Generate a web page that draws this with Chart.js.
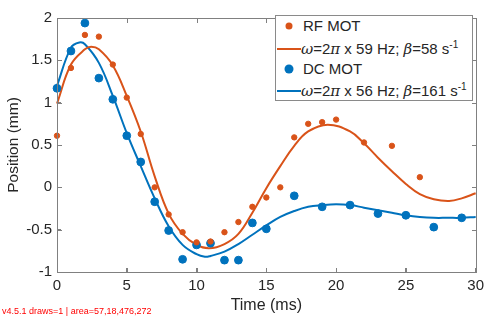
<!DOCTYPE html>
<html>
<head>
<meta charset="utf-8">
<script src="https://cdn.jsdelivr.net/npm/chart.js@4.4.1/dist/chart.umd.min.js"></script>
<style>
  html, body { margin: 0; padding: 0; background: #fff; }
  #wrap { position: relative; width: 493px; height: 319px; font-family: 'Liberation Sans', Arial, sans-serif; }
  #axes { position: absolute; left: 0; top: 0; width: 493px; height: 319px; pointer-events: none; }
  #axes div { position: absolute; background: #808080; }
  #axes div.box { background: transparent; border: 1px solid #808080; box-sizing: border-box; }
  #legend {
    position: absolute; left: 275px; top: 15px; width: 196px; height: 84px;
    border: 1px solid #8a8a8a; background: #fff; color: #262626; font-size: 15px;
  }
  .row { position: absolute; left: 0; height: 20px; line-height: 20px; white-space: nowrap; }
  .dot { position: absolute; top: 50%; border-radius: 50%; transform: translate(-50%, -50%); }
  .seg { position: absolute; top: 50%; height: 2px; margin-top: -1px; }
  .txt { position: absolute; top: 0; }
  sup { font-size: 10px; vertical-align: 6px; line-height: 0; }
  i { font-family: 'DejaVu Serif', serif; }
  #diag { position: absolute; left: 2px; top: 306px; font: 9px sans-serif; color: red; white-space: nowrap; }
</style>
</head>
<body>
<div id="wrap">
  <canvas id="chart" width="493" height="319"></canvas>
  <div id="axes"></div>
  <div id="legend"></div>
  <div id="diag"></div>
</div>
<script>
const diag = [];
const note = s => { diag.push(s); document.getElementById('diag').textContent = diag.join(' | '); };
window.addEventListener('error', e => note('ERR ' + e.message));

// measured points
const rfTime = [0, 1, 2, 3, 4, 5, 6, 7, 8, 9, 10, 11, 12, 13, 14, 15, 16, 17, 18, 19, 20, 22, 24, 26];
const rfPos = [0.61, 1.41, 1.80, 1.78, 1.45, 1.06, 0.63, 0.00, -0.32, -0.53, -0.65, -0.64, -0.53, -0.41, -0.23, -0.12, 0.00, 0.59, 0.75, 0.77, 0.80, 0.53, 0.49, 0.12];
const dcTime = [0, 1, 2, 3, 4, 5, 6, 7, 8, 9, 10, 11, 12, 13, 14, 15, 17, 19, 21, 23, 25, 27, 29];
const dcPos = [1.17, 1.61, 1.94, 1.29, 1.04, 0.61, 0.30, -0.17, -0.51, -0.85, -0.68, -0.66, -0.86, -0.86, -0.42, -0.49, -0.10, -0.23, -0.21, -0.31, -0.33, -0.47, -0.36];

// fitted curves
const rfFitTime = [0, 1, 2, 2.45, 3, 4, 5, 6, 7, 8, 9, 10, 10.9, 12, 13, 14, 15, 16, 17, 18, 19.4, 21, 22, 23, 24, 25, 26, 27, 28.1, 29, 30];
const rfFitPos = [0.99, 1.45, 1.63, 1.66, 1.63, 1.44, 1.08, 0.66, 0.13, -0.31, -0.55, -0.68, -0.72, -0.67, -0.55, -0.30, -0.01, 0.25, 0.49, 0.66, 0.74, 0.66, 0.52, 0.35, 0.19, 0.04, -0.08, -0.14, -0.16, -0.13, -0.07];
const dcFitTime = [0, 1, 1.6, 2, 3, 4, 5, 6, 7, 8, 9, 10, 10.6, 11, 12, 13, 14, 15, 16, 17, 18, 19, 20, 21, 22, 23, 24, 25, 26, 27, 28, 29, 30];
const dcFitPos = [1.20, 1.65, 1.71, 1.69, 1.47, 1.08, 0.64, 0.25, -0.13, -0.46, -0.68, -0.79, -0.82, -0.81, -0.76, -0.67, -0.56, -0.45, -0.35, -0.28, -0.23, -0.21, -0.20, -0.21, -0.24, -0.27, -0.30, -0.33, -0.35, -0.36, -0.36, -0.36, -0.35];

const xTicks = [0, 5, 10, 15, 20, 25, 30];
const yTicks = [-1, -0.5, 0, 0.5, 1, 1.5, 2];

const ORANGE = '#D95319';
const BLUE = '#0072BD';
const AXIS = '#808080';
const TEXT = '#262626';
const FONT = "'Liberation Sans', Arial, sans-serif";

const pts = (xs, ys) => xs.map((x, i) => ({ x: x, y: ys[i] }));

// top/right edges and inward ticks, placed from the chart's scales
let drawCount = 0;
function drawAxes(chart) {
  drawCount++;
  const a = chart.chartArea;
  if (!a) { note('no chartArea'); return; }
  const sx = chart.scales.x, sy = chart.scales.y;
  const L = Math.round(a.left), R = Math.round(a.right), T = Math.round(a.top), B = Math.round(a.bottom);
  const parts = ['<div class="box" style="left:' + L + 'px;top:' + T + 'px;width:' + (R - L + 1) + 'px;height:' + (B - T + 1) + 'px"></div>'];
  xTicks.forEach(v => {
    const px = Math.round(sx.getPixelForValue(v));
    parts.push('<div style="left:' + px + 'px;top:' + (B - 4) + 'px;width:1px;height:4px"></div>');
    parts.push('<div style="left:' + px + 'px;top:' + (T + 1) + 'px;width:1px;height:4px"></div>');
  });
  yTicks.forEach(v => {
    const py = Math.round(sy.getPixelForValue(v));
    parts.push('<div style="left:' + (L + 1) + 'px;top:' + py + 'px;width:4px;height:1px"></div>');
    parts.push('<div style="left:' + (R - 4) + 'px;top:' + py + 'px;width:4px;height:1px"></div>');
  });
  document.getElementById('axes').innerHTML = parts.join('');
}

const chart = new Chart(document.getElementById('chart'), {
  type: 'scatter',
  data: {
    datasets: [
      { data: pts(rfFitTime, rfFitPos), showLine: true, borderColor: ORANGE, borderWidth: 2, pointRadius: 0, tension: 0.4, order: 3 },
      { data: pts(dcFitTime, dcFitPos), showLine: true, borderColor: BLUE, borderWidth: 2, pointRadius: 0, tension: 0.4, order: 4 },
      { data: pts(rfTime, rfPos), backgroundColor: ORANGE, borderColor: ORANGE, borderWidth: 1, pointRadius: 2.7, order: 1 },
      { data: pts(dcTime, dcPos), backgroundColor: BLUE, borderColor: BLUE, borderWidth: 1, pointRadius: 3.9, order: 2 }
    ]
  },
  options: {
    responsive: false,
    animation: false,
    clip: false,
    layout: { padding: { top: 6, right: 11 } },
    plugins: { legend: { display: false } },
    scales: {
      x: {
        min: 0, max: 30,
        afterBuildTicks: s => { s.ticks = xTicks.map(v => ({ value: v })); },
        afterFit: s => { s.height = 47; },
        border: { display: true, color: AXIS, width: 1 },
        grid: { display: true, drawOnChartArea: false, drawTicks: true, tickLength: -4, color: AXIS },
        ticks: { color: TEXT, font: { family: FONT, size: 15 }, padding: 9, maxRotation: 0, callback: v => String(v) },
        title: { display: true, text: 'Time (ms)', color: TEXT, font: { family: FONT, size: 16 }, padding: { top: 0, bottom: 4 } }
      },
      y: {
        min: -1, max: 2,
        afterBuildTicks: s => { s.ticks = yTicks.map(v => ({ value: v })); },
        afterFit: s => { s.width = 57; },
        border: { display: true, color: AXIS, width: 1 },
        grid: { display: true, drawOnChartArea: false, drawTicks: true, tickLength: -4, color: AXIS },
        ticks: { color: TEXT, font: { family: FONT, size: 15 }, padding: 9, callback: v => String(v) },
        title: { display: true, text: 'Position (mm)', color: TEXT, font: { family: FONT, size: 15.5 }, padding: { top: 4, bottom: 0 } }
      }
    }
  },
  plugins: [{ id: 'axesOverlay', afterDraw: c => drawAxes(c) }]
});
note('v' + Chart.version + ' draws=' + drawCount);
try { drawAxes(chart); } catch (e) { note('drawAxes ' + e.message); }
note('area=' + (chart.chartArea ? [chart.chartArea.left, chart.chartArea.top, chart.chartArea.right, chart.chartArea.bottom].map(v => Math.round(v)).join(',') : 'none'));

// legend overlay
const legendRows = [
  { kind: 'dot', color: ORANGE, size: 7, html: 'RF MOT', top: 0 },
  { kind: 'line', color: ORANGE, html: '<i>ω</i>=2<i>π</i> x 59 Hz; <i>β</i>=58 s<sup>-1</sup>', top: 23 },
  { kind: 'dot', color: BLUE, size: 9, html: 'DC MOT', top: 43 },
  { kind: 'line', color: BLUE, html: '<i>ω</i>=2<i>π</i> x 56 Hz; <i>β</i>=161 s<sup>-1</sup>', top: 65 }
];
const legend = document.getElementById('legend');
legendRows.forEach(r => {
  const row = document.createElement('div');
  row.className = 'row';
  row.style.top = r.top + 'px';
  if (r.kind === 'dot') {
    row.innerHTML = '<span class="dot" style="left:13px;width:' + r.size + 'px;height:' + r.size + 'px;background:' + r.color + '"></span>' +
      '<span class="txt" style="left:27px">' + r.html + '</span>';
  } else {
    row.innerHTML = '<span class="seg" style="left:1px;width:24px;background:' + r.color + '"></span>' +
      '<span class="txt" style="left:25px">' + r.html + '</span>';
  }
  legend.appendChild(row);
});
</script>
</body>
</html>
